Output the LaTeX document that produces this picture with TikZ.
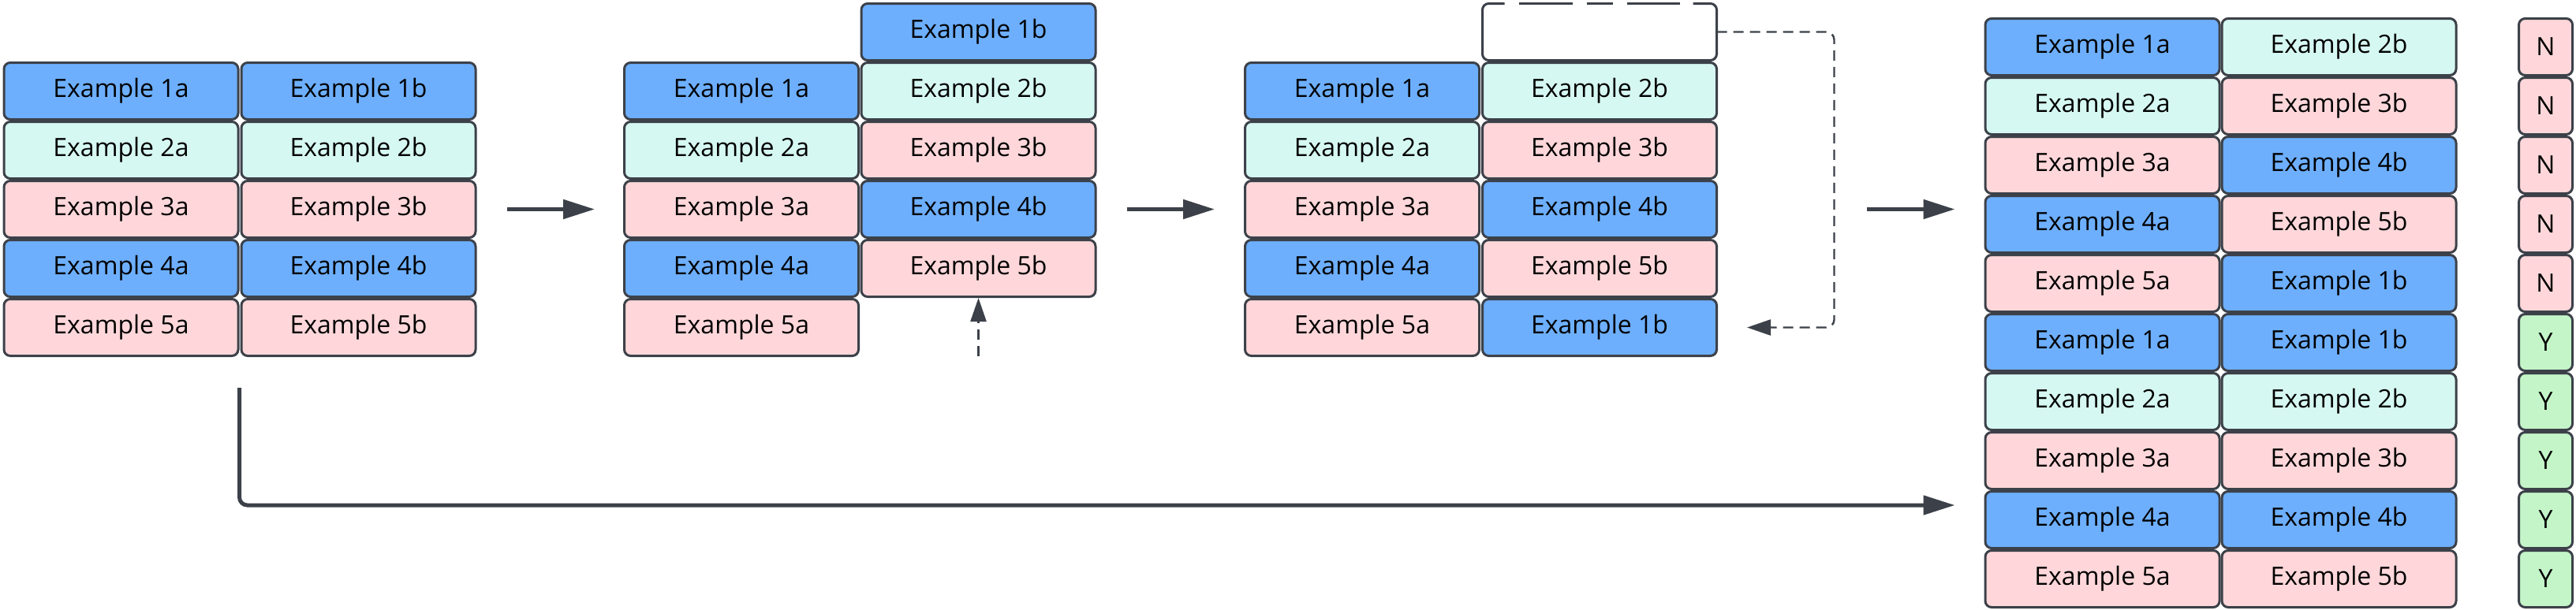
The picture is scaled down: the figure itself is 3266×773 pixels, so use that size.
\documentclass[tikz,border=0pt]{standalone}
\usepackage{fontspec}
\setmainfont{Open Sans}
\usetikzlibrary{arrows.meta}

\definecolor{cellblue}{HTML}{6DAFFD}
\definecolor{cellmint}{HTML}{D6F8F2}
\definecolor{cellpink}{HTML}{FFD7DA}
\definecolor{cellgreen}{HTML}{C4F5C8}
\definecolor{inkgray}{HTML}{3C4149}

\tikzset{
    cell/.style={draw=inkgray, line width=1.5pt, rounded corners=4pt,
        minimum width=148.5pt, minimum height=36pt, inner sep=0pt,
        font=\fontsize{16}{19}\selectfont},
    flag/.style={cell, minimum width=34pt},
    bigarrow/.style={draw=inkgray, line width=2.5pt,
        -{Triangle[length=20pt, width=12pt]}},
    dasharrow/.style={draw=inkgray, line width=1.2pt, dash pattern=on 6.5pt off 4pt,
        -{Triangle[length=15pt, width=10pt]}}
}

\begin{document}
\begin{tikzpicture}[x=0.5pt, y=-0.5pt]

    \useasboundingbox (0,0) rectangle (3266,773);

    % Stage 1
    \foreach \r/\c in {1/cellblue,2/cellmint,3/cellpink,4/cellblue,5/cellpink} {
        \node[cell, fill=\c] (g1a\r) at (153.5, 40.5+75*\r) {Example \r a};
        \node[cell, fill=\c] (g1b\r) at (454.5, 40.5+75*\r) {Example \r b};
    }

    % Stage 2
    \foreach \r/\c in {1/cellblue,2/cellmint,3/cellpink,4/cellblue,5/cellpink} {
        \node[cell, fill=\c] (g2a\r) at (940, 40.5+75*\r) {Example \r a};
        \node[cell, fill=\c] (g2b\r) at (1240.5, 40.5+75*\r-75) {Example \r b};
    }

    % Stage 3
    \foreach \r/\c in {1/cellblue,2/cellmint,3/cellpink,4/cellblue,5/cellpink} {
        \node[cell, fill=\c] (g3a\r) at (1727, 40.5+75*\r) {Example \r a};
    }
    % empty slot, dashed on top only
    \node[cell, draw=none, outer sep=0pt] (g3gap) at (2028, 40.5) {};
    \draw[inkgray, line width=1.5pt, rounded corners=4pt]
        ([xshift=14pt]g3gap.north west) -- (g3gap.north west) -- (g3gap.south west)
        -- (g3gap.south east) -- (g3gap.north east) -- ([xshift=-15pt]g3gap.north east);
    \draw[inkgray, line width=1.5pt, dash pattern=on 34pt off 9pt on 16.5pt off 9pt]
        ([xshift=23pt]g3gap.north west) -- ([xshift=-23.5pt]g3gap.north east);
    \foreach \r/\c/\k in {2/cellmint/1,3/cellpink/2,4/cellblue/3,5/cellpink/4,1/cellblue/5} {
        \node[cell, fill=\c] (g3b\r) at (2028, 40.5+75*\k) {Example \r b};
    }

    % Stage 4
    \foreach \r/\c/\s/\d/\k in {1/cellblue/2/cellmint/0, 2/cellmint/3/cellpink/1,
            3/cellpink/4/cellblue/2, 4/cellblue/5/cellpink/3, 5/cellpink/1/cellblue/4} {
        \node[cell, fill=\c] (g4a\r) at (2665.5, 59.5+75*\k) {Example \r a};
        \node[cell, fill=\d] (g4b\r) at (2965.5, 59.5+75*\k) {Example \s b};
        \node[flag, fill=cellpink] (g4f\r) at (3227.5, 59.5+75*\k) {N};
    }
    \foreach \r/\c/\k in {1/cellblue/5, 2/cellmint/6, 3/cellpink/7, 4/cellblue/8, 5/cellpink/9} {
        \node[cell, fill=\c] (g4c\r) at (2665.5, 59.5+75*\k) {Example \r a};
        \node[cell, fill=\c] (g4d\r) at (2965.5, 59.5+75*\k) {Example \r b};
        \node[flag, fill=cellgreen] (g4y\r) at (3227.5, 59.5+75*\k) {Y};
    }

    % Frecce
    \draw[bigarrow, shorten <=19pt, shorten >=18pt] (g1b3.east) -- (g2a3.west);
    \draw[bigarrow, shorten <=19pt, shorten >=18.5pt] (g2b4.east) -- (g3a3.west);
    \draw[bigarrow, shorten <=94.5pt, shorten >=18.5pt] (g3b4.east) -- (g3b4.east -| g4a1.west);
    \draw[bigarrow, rounded corners=5pt]
        ([yshift=-19.5pt]g1a5.south east) |- ([xshift=-18.5pt, yshift=9.25pt]g4c4.west);

    % Tratteggiate
    \draw[dasharrow] ([yshift=-37pt]g2b5.south) -- (g2b5.south);
    \draw[dasharrow, rounded corners=5pt]
        (g3gap.east) -- ++(149,0) |- ([xshift=18.5pt]g3b1.east);

\end{tikzpicture}
\end{document}
